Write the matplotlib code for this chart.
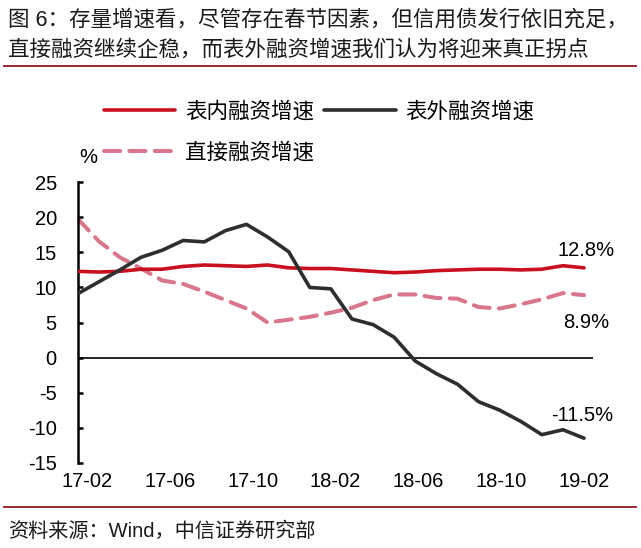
import matplotlib
matplotlib.use("Agg")
import matplotlib.pyplot as plt
import numpy as np

plt.rcParams['font.family'] = ['Liberation Sans', 'Noto Sans CJK SC', 'DejaVu Sans']

# ---- data ----
months = ['17-02', '17-03', '17-04', '17-05', '17-06', '17-07', '17-08', '17-09', '17-10',
          '17-11', '17-12', '18-01', '18-02', '18-03', '18-04', '18-05', '18-06', '18-07',
          '18-08', '18-09', '18-10', '18-11', '18-12', '19-01', '19-02']
on_balance = [12.3, 12.2, 12.3, 12.6, 12.6, 13.0, 13.2, 13.1, 13.0, 13.2, 12.8, 12.7, 12.7,
              12.5, 12.3, 12.1, 12.2, 12.4, 12.5, 12.6, 12.6, 12.5, 12.6, 13.1, 12.8]
off_balance = [9.1, 10.8, 12.5, 14.3, 15.3, 16.7, 16.5, 18.1, 19.0, 17.2, 15.1, 10.0, 9.8,
               5.5, 4.7, 2.9, -0.5, -2.3, -3.8, -6.3, -7.5, -9.1, -11.0, -10.3, -11.5]
direct = [19.8, 16.6, 14.3, 12.7, 11.0, 10.5, 9.4, 8.2, 7.0, 5.0, 5.4, 5.8, 6.4,
          7.1, 8.2, 9.0, 9.0, 8.5, 8.4, 7.2, 7.0, 7.6, 8.3, 9.2, 8.9]
tick_labels = ['17-02', '17-06', '17-10', '18-02', '18-06', '18-10', '19-02']
series_names = ['表内融资增速', '表外融资增速', '直接融资增速']
end_labels = ['12.8%', '-11.5%', '8.9%']

title_lines = ['图 6：存量增速看，尽管存在春节因素，但信用债发行依旧充足，',
               '直接融资继续企稳，而表外融资增速我们认为将迎来真正拐点']
source_text = '资料来源：Wind，中信证券研究部'

RED = '#C8101F'
BLACK = '#2E2E2E'
PINK = '#D9768B'
LINE_RED = '#8E1B22'

fig = plt.figure(figsize=(6.41, 5.48), dpi=100)
ax = fig.add_axes([77.7 / 641, 1 - 462.7 / 548, (593.3 - 77.7) / 641, (462.7 - 182.3) / 548])

x = np.arange(len(months))
l_red, = ax.plot(x, on_balance, color=RED, lw=2.6, solid_capstyle='round',
                 solid_joinstyle='round', label=series_names[0], zorder=3)
l_blk, = ax.plot(x, off_balance, color=BLACK, lw=2.6, solid_capstyle='round',
                 solid_joinstyle='round', label=series_names[1], zorder=4)
l_pnk, = ax.plot(x, direct, color=PINK, lw=2.9, dashes=(4.0, 2.3), dash_capstyle='round',
                 label=series_names[2], zorder=2)

ax.axhline(0, color='black', lw=1.2, zorder=1)

ax.set_xlim(0, 24.44)
ax.set_ylim(-15, 25)
ax.set_yticks(np.arange(-15, 26, 5))
ax.set_yticklabels([str(v) for v in range(-15, 26, 5)])
tick_pos = [0.43 + 3.93 * k for k in range(len(tick_labels))]
ax.set_xticks(tick_pos)
ax.set_xticklabels(tick_labels)

for s in ['top', 'right', 'bottom']:
    ax.spines[s].set_visible(False)
ax.spines['left'].set_linewidth(1.8)
ax.tick_params(axis='y', direction='in', length=3.5, width=1.8, pad=15, labelsize=14.5,
               colors='black')
ax.tick_params(axis='x', length=0, pad=7, labelsize=14.5)

# end labels
ax.text(24.1, 15.3, end_labels[0], fontsize=14.5, ha='center', va='center')
ax.text(23.9, -8.3, end_labels[1], fontsize=14.5, ha='center', va='center')
ax.text(24.1, 5.0, end_labels[2], fontsize=14.5, ha='center', va='center')

# unit label
fig.text(88 / 641, 1 - 158 / 548, '%', fontsize=14.5, ha='center', va='center')

# legend
leg = fig.legend(handles=[l_red, l_pnk, l_blk], labels=[series_names[0], series_names[2], series_names[1]],
                 ncol=2, frameon=False, loc='upper left',
                 bbox_to_anchor=(104 / 641, 1 - 102 / 548),
                 fontsize=15.5, handlelength=3.3, handletextpad=0.45, columnspacing=0.5,
                 labelspacing=0.9, borderpad=0, borderaxespad=0)

# title
fig.text(8 / 641, 1 - 20 / 548, title_lines[0], fontsize=15.5, color='#1a1a1a', ha='left', va='center')
fig.text(8 / 641, 1 - 50 / 548, title_lines[1], fontsize=15.5, color='#1a1a1a', ha='left', va='center')
fig.add_artist(plt.Line2D([4 / 641, 636 / 641], [1 - 66 / 548, 1 - 66 / 548], color=LINE_RED, lw=1.3))

# source
fig.add_artist(plt.Line2D([4 / 641, 636 / 641], [1 - 507 / 548, 1 - 507 / 548], color=LINE_RED, lw=1.3))
fig.text(8 / 641, 1 - 531 / 548, source_text, fontsize=14.5, color='#1a1a1a', ha='left', va='center')

fig.savefig('out.png', dpi=100)
